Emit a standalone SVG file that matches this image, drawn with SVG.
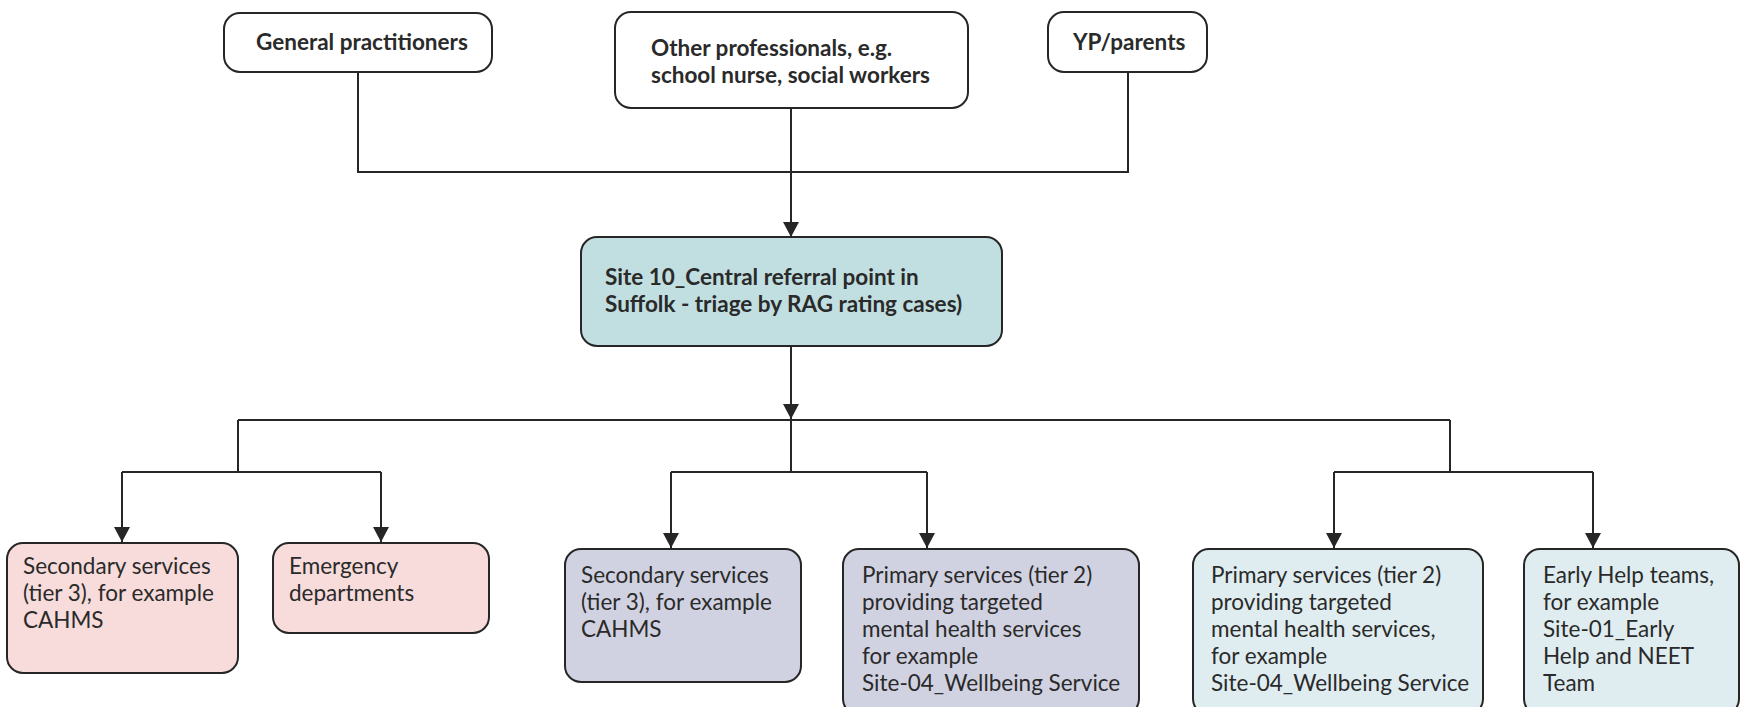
<svg xmlns="http://www.w3.org/2000/svg" width="1742" height="707" viewBox="0 0 1742 707">
  <style>
    .box { stroke: #262626; stroke-width: 2; }
    .src { fill: #ffffff; }
    .hub { fill: #c1dfe1; }
    .red { fill: #f7dcdb; }
    .amber { fill: #d1d2e1; }
    .green { fill: #e0edf0; }
    .lbl { font-family: Lato, "Liberation Sans", sans-serif; font-size: 22.5px; fill: #2a2a2a; }
    .bold { font-weight: bold; }
    .wire { fill: none; stroke: #262626; stroke-width: 2; }
  </style>
  <defs>
    <marker id="arrow" markerUnits="userSpaceOnUse" markerWidth="16" markerHeight="16" refX="15" refY="8" orient="auto">
      <path d="M0,0 L15,8 L0,16 Z" fill="#262626"/>
    </marker>
  </defs>
  <rect width="1742" height="707" fill="#ffffff"/>

  <!-- connectors -->
  <g id="connectors" class="wire">
    <!-- referral sources merge into the central point -->
    <path d="M358,72 V172 H1128 V72"/>
    <path d="M791,108 V237" marker-end="url(#arrow)"/>
    <!-- triage output -->
    <path d="M791,346 V419" marker-end="url(#arrow)"/>
    <path d="M238,420 H1450"/>
    <!-- red branch -->
    <path d="M238,420 V472"/>
    <path d="M122,472 H381"/>
    <path d="M122,472 V542" marker-end="url(#arrow)"/>
    <path d="M381,472 V542" marker-end="url(#arrow)"/>
    <!-- amber branch -->
    <path d="M791,420 V472"/>
    <path d="M671,472 H927"/>
    <path d="M671,472 V548" marker-end="url(#arrow)"/>
    <path d="M927,472 V548" marker-end="url(#arrow)"/>
    <!-- green branch -->
    <path d="M1450,420 V472"/>
    <path d="M1334,472 H1593"/>
    <path d="M1334,472 V548" marker-end="url(#arrow)"/>
    <path d="M1593,472 V548" marker-end="url(#arrow)"/>
  </g>

  <!-- referral sources -->
  <g id="gp">
    <rect class="box src" x="224" y="13" width="268" height="59" rx="16"/>
    <text class="lbl bold" x="256" y="50">General practitioners</text>
  </g>
  <g id="other-professionals">
    <rect class="box src" x="615" y="12" width="353" height="96" rx="16"/>
    <text class="lbl bold" x="651" y="56">Other professionals, e.g.</text>
    <text class="lbl bold" x="651" y="83">school nurse, social workers</text>
  </g>
  <g id="yp-parents">
    <rect class="box src" x="1048" y="12" width="159" height="60" rx="16"/>
    <text class="lbl bold" x="1073" y="50">YP/parents</text>
  </g>

  <!-- central referral point -->
  <g id="central-referral">
    <rect class="box hub" x="581" y="237" width="421" height="109" rx="16"/>
    <text class="lbl bold" x="605" y="285">Site 10_Central referral point in</text>
    <text class="lbl bold" x="605" y="312">Suffolk - triage by RAG rating cases)</text>
  </g>

  <!-- red rated services -->
  <g id="secondary-red">
    <rect class="box red" x="7" y="543" width="231" height="130" rx="16"/>
    <text class="lbl" x="23" y="574">Secondary services</text>
    <text class="lbl" x="23" y="601">(tier 3), for example</text>
    <text class="lbl" x="23" y="628">CAHMS</text>
  </g>
  <g id="emergency">
    <rect class="box red" x="273" y="543" width="216" height="90" rx="16"/>
    <text class="lbl" x="289" y="574">Emergency</text>
    <text class="lbl" x="289" y="601">departments</text>
  </g>

  <!-- amber rated services -->
  <g id="secondary-amber">
    <rect class="box amber" x="565" y="549" width="236" height="133" rx="16"/>
    <text class="lbl" x="581" y="583">Secondary services</text>
    <text class="lbl" x="581" y="610">(tier 3), for example</text>
    <text class="lbl" x="581" y="637">CAHMS</text>
  </g>
  <g id="primary-amber">
    <rect class="box amber" x="843" y="549" width="296" height="166" rx="16"/>
    <text class="lbl" x="862" y="583">Primary services (tier 2)</text>
    <text class="lbl" x="862" y="610">providing targeted</text>
    <text class="lbl" x="862" y="637">mental health services</text>
    <text class="lbl" x="862" y="664">for example</text>
    <text class="lbl" x="862" y="691">Site-04_Wellbeing Service</text>
  </g>

  <!-- green rated services -->
  <g id="primary-green">
    <rect class="box green" x="1193" y="549" width="290" height="166" rx="16"/>
    <text class="lbl" x="1211" y="583">Primary services (tier 2)</text>
    <text class="lbl" x="1211" y="610">providing targeted</text>
    <text class="lbl" x="1211" y="637">mental health services,</text>
    <text class="lbl" x="1211" y="664">for example</text>
    <text class="lbl" x="1211" y="691">Site-04_Wellbeing Service</text>
  </g>
  <g id="early-help">
    <rect class="box green" x="1524" y="549" width="215" height="166" rx="16"/>
    <text class="lbl" x="1543" y="583">Early Help teams,</text>
    <text class="lbl" x="1543" y="610">for example</text>
    <text class="lbl" x="1543" y="637">Site-01_Early</text>
    <text class="lbl" x="1543" y="664">Help and NEET</text>
    <text class="lbl" x="1543" y="691">Team</text>
  </g>
</svg>
